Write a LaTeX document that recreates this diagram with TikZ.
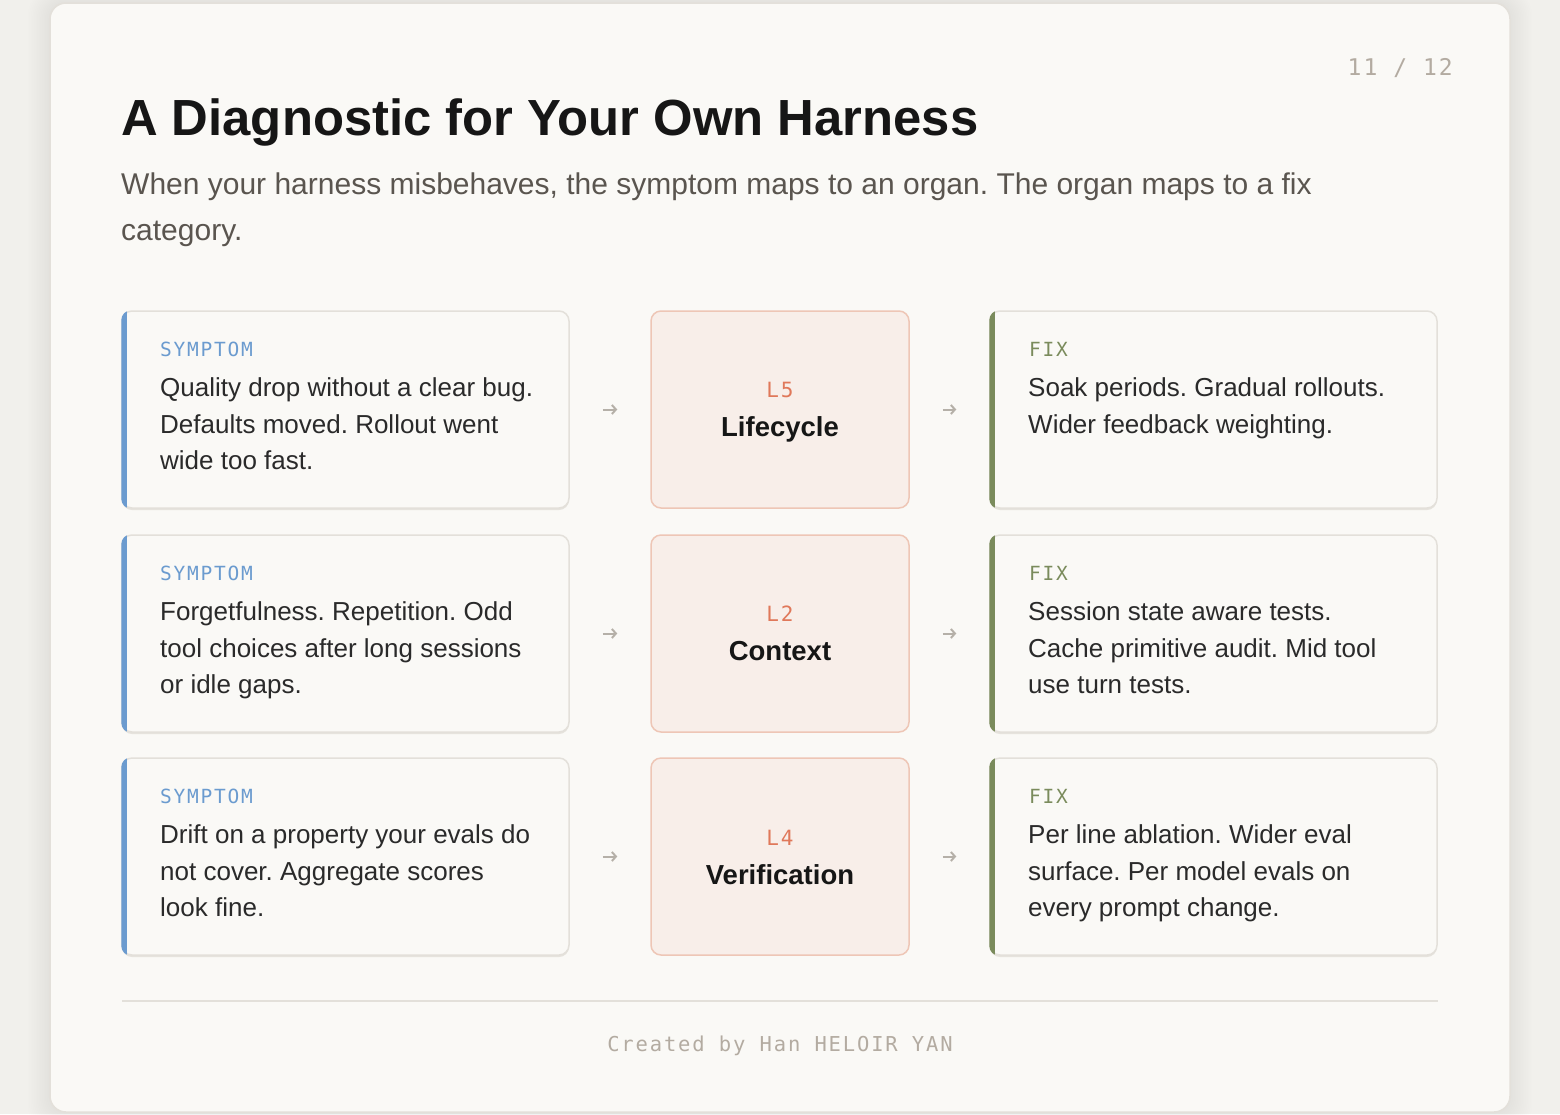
\documentclass[tikz,border=0pt]{standalone}
\usepackage{fontspec}
\setmainfont{Liberation Sans}
\newfontfamily\labfont[LetterSpace=9]{DejaVu Sans Mono}
\usetikzlibrary{arrows.meta,calc}
\frenchspacing
\definecolor{outerbg}{HTML}{F1F0EC}
\definecolor{cardbg}{HTML}{FAF9F6}
\definecolor{cardborder}{HTML}{E3E0DA}
\definecolor{shadowc}{HTML}{E6E3DD}
\definecolor{titlec}{HTML}{161616}
\definecolor{subc}{HTML}{5A554F}
\definecolor{bodyc}{HTML}{2A2A2A}
\definecolor{symc}{HTML}{6B9BCF}
\definecolor{fixc}{HTML}{7A8B5C}
\definecolor{midfill}{HTML}{F8EEE9}
\definecolor{midborder}{HTML}{EEC6B6}
\definecolor{lvlc}{HTML}{E0785A}
\definecolor{arrowc}{HTML}{B5B0A8}
\definecolor{mutedc}{HTML}{B3ABA1}
\tikzset{
  pagecard/.style={draw=cardborder, line width=1.5pt, fill=cardbg, rounded corners=16pt,
    minimum width=1460, minimum height=1109, inner sep=0},
  basecard/.style={draw=cardborder, line width=1.5pt, fill=cardbg, rounded corners=10pt,
    minimum width=447, minimum height=197, inner sep=0},
  midcard/.style={draw=midborder, line width=1.5pt, fill=midfill, rounded corners=10pt,
    minimum width=258, minimum height=197, inner sep=0},
  cardshadow/.style={fill=shadowc, rounded corners=10pt},
  lab/.style={font=\labfont\fontsize{19.5}{24}\selectfont, anchor=base west, inner sep=0},
  body/.style={font=\fontsize{26}{36.5}\selectfont, text=bodyc, align=left, anchor=north west, inner sep=0},
  lvl/.style={font=\labfont\fontsize{21}{24}\selectfont, text=lvlc, anchor=base, inner sep=0},
  organ/.style={font=\bfseries\fontsize{27.5}{32}\selectfont, text=titlec, anchor=base, inner sep=0},
  conn/.style={draw=arrowc, line width=2pt, -{Straight Barb[length=4pt,width=9pt]}, shorten <=33pt, shorten >=33pt}
}
\newcommand{\sidecard}[3]{%
  \fill[cardshadow] ($(#2)+(-223.5,-96.5)$) rectangle ($(#2)+(223.5,100.5)$);
  \node[basecard] (#1) at (#2) {};
  \begin{scope}
    \clip[rounded corners=10pt] (#1.north west) rectangle (#1.south east);
    \fill[#3] (#1.north west) rectangle ([xshift=6pt]#1.south west);
  \end{scope}}
\begin{document}
\begin{tikzpicture}[x=1pt,y=-1pt]
\fill[outerbg] (0,0) rectangle (1560,1114);
\useasboundingbox (0,0) rectangle (1560,1114);
% soft shadow of the page card
\foreach \r in {1,...,14} {
  \fill[black, opacity=0.004, rounded corners=16pt+\r pt] (50-1.6*\r,3-1.2*\r) rectangle (1510+1.6*\r,1112+1.6*\r);
}
\node[pagecard] (page) at (780,557.5) {};
% header
\node[font=\labfont\fontsize{23}{26}\selectfont, text=mutedc, anchor=base east, inner sep=0] (pnum) at (1453,75) {11 / 12};
\node[font=\bfseries\fontsize{50.8}{60}\selectfont, text=titlec, anchor=base west, inner sep=0] (title) at (121,135) {A Diagnostic for Your Own Harness};
\node[font=\fontsize{30}{46}\selectfont, text=subc, align=left, anchor=north west, inner sep=0] (sub) at (121,161.8)
  {\strut When your harness misbehaves, the symptom maps to an organ. The organ maps to a fix\\category.};
% row 1
\sidecard{s1}{345.5,409.5}{symc}
\node[midcard] (m1) at (780,409.5) {};
\sidecard{f1}{1213.5,409.5}{fixc}
\node[lab, text=symc] (s1l) at (160,356) {SYMPTOM};
\node[body] (s1t) at (160,371) {\strut Quality drop without a clear bug.\\Defaults moved. Rollout went\\wide too fast.};
\node[lvl] (m1l) at (780,397) {L5};
\node[organ] (m1t) at (780,436) {Lifecycle};
\node[lab, text=fixc] (f1l) at (1029,356) {FIX};
\node[body] (f1t) at (1028,371) {\strut Soak periods. Gradual rollouts.\\Wider feedback weighting.};
\draw[conn] (s1) -- (m1);
\draw[conn] (m1) -- (f1);
% row 2
\sidecard{s2}{345.5,633.5}{symc}
\node[midcard] (m2) at (780,633.5) {};
\sidecard{f2}{1213.5,633.5}{fixc}
\node[lab, text=symc] (s2l) at (160,580) {SYMPTOM};
\node[body] (s2t) at (160,595) {\strut Forgetfulness. Repetition. Odd\\tool choices after long sessions\\or idle gaps.};
\node[lvl] (m2l) at (780,621) {L2};
\node[organ] (m2t) at (780,660) {Context};
\node[lab, text=fixc] (f2l) at (1029,580) {FIX};
\node[body] (f2t) at (1028,595) {\strut Session state aware tests.\\Cache primitive audit. Mid tool\\use turn tests.};
\draw[conn] (s2) -- (m2);
\draw[conn] (m2) -- (f2);
% row 3
\sidecard{s3}{345.5,856.5}{symc}
\node[midcard] (m3) at (780,856.5) {};
\sidecard{f3}{1213.5,856.5}{fixc}
\node[lab, text=symc] (s3l) at (160,803) {SYMPTOM};
\node[body] (s3t) at (160,818) {\strut Drift on a property your evals do\\not cover. Aggregate scores\\look fine.};
\node[lvl] (m3l) at (780,845) {L4};
\node[organ] (m3t) at (780,884) {Verification};
\node[lab, text=fixc] (f3l) at (1029,803) {FIX};
\node[body] (f3t) at (1028,818) {\strut Per line ablation. Wider eval\\surface. Per model evals on\\every prompt change.};
\draw[conn] (s3) -- (m3);
\draw[conn] (m3) -- (f3);
% footer
\coordinate (fa) at (122,1001);
\coordinate (fb) at (1438,1001);
\draw[cardborder, line width=1.5pt] (fa) -- (fb);
\node[font=\labfont\fontsize{20.5}{24}\selectfont, text=mutedc, anchor=base, inner sep=0] (foot) at (780,1051) {Created by Han HELOIR YAN};
\end{tikzpicture}
\end{document}
